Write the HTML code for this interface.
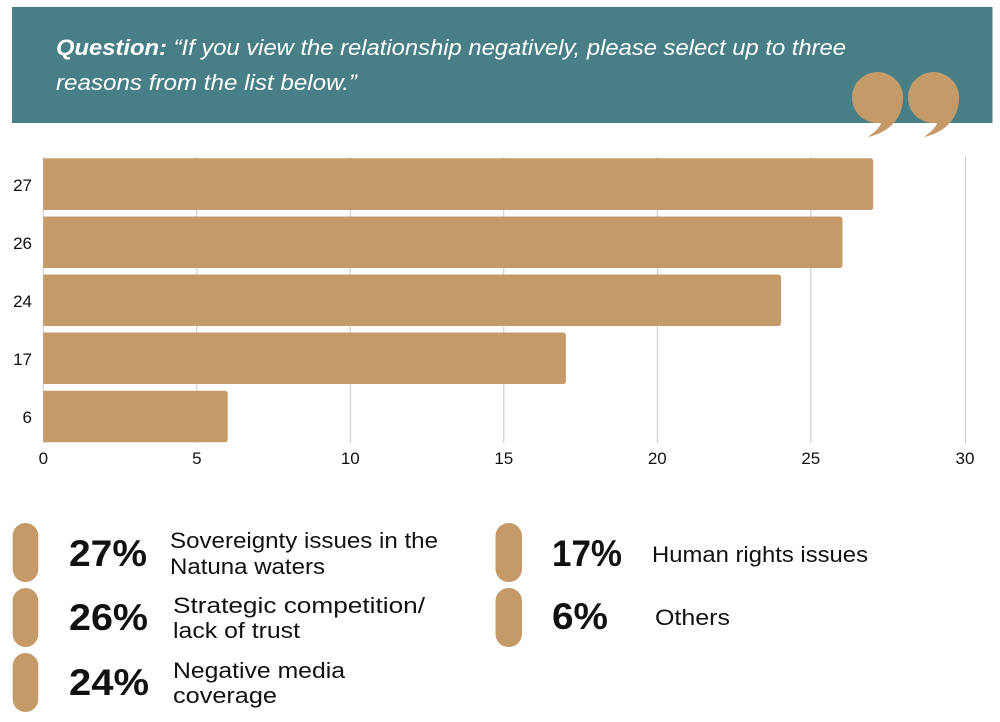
<!DOCTYPE html>
<html><head><meta charset="utf-8"><style>
html,body{margin:0;padding:0;background:#fff;}
svg{display:block;}
text{font-family:"Liberation Sans",Arial,sans-serif;}
</style></head><body>
<svg width="1000" height="722" viewBox="0 0 1000 722" xmlns="http://www.w3.org/2000/svg">
<rect x="0" y="0" width="1000" height="722" fill="#ffffff"/>
<!-- banner -->
<rect x="12" y="7" width="980.5" height="116" fill="#487f86"/>
<text x="56" y="55" font-size="22" fill="#ffffff" font-style="italic" textLength="790" lengthAdjust="spacingAndGlyphs"><tspan font-weight="bold">Question:</tspan> “If you view the relationship negatively, please select up to three</text>
<text x="56" y="90" font-size="22" fill="#ffffff" font-style="italic" textLength="301" lengthAdjust="spacingAndGlyphs">reasons from the list below.”</text>
<!-- quote marks -->
<path d="M852,97.5 A25.5,25.5 0 0 1 903,97.5 C903,118 890,132 868,137 C876,131 880,127 881,122.8 A25.5,25.5 0 0 1 852,97.5 Z" fill="#c49a68"/>
<path d="M908,97.5 A25.5,25.5 0 0 1 959,97.5 C959,118 946,132 924,137 C932,131 936,127 937,122.8 A25.5,25.5 0 0 1 908,97.5 Z" fill="#c49a68"/>
<!-- gridlines -->
<g stroke="#c8c8c8" stroke-width="1">
<line x1="43.3" y1="157" x2="43.3" y2="443"/>
<line x1="196.8" y1="157" x2="196.8" y2="443"/>
<line x1="350.3" y1="157" x2="350.3" y2="443"/>
<line x1="503.8" y1="157" x2="503.8" y2="443"/>
<line x1="657.3" y1="157" x2="657.3" y2="443"/>
<line x1="810.8" y1="157" x2="810.8" y2="443"/>
<line x1="965.5" y1="157" x2="965.5" y2="443"/>
</g>
<!-- bars (square left, rounded right) -->
<g fill="#c49a68">
<path d="M43.3,158.3 H870.2 Q873.2,158.3 873.2,161.3 V207 Q873.2,210 870.2,210 H43.3 Z"/>
<path d="M43.3,216.5 H839.5 Q842.5,216.5 842.5,219.5 V265 Q842.5,268 839.5,268 H43.3 Z"/>
<path d="M43.3,274.5 H778 Q781,274.5 781,277.5 V323 Q781,326 778,326 H43.3 Z"/>
<path d="M43.3,332.5 H562.9 Q565.9,332.5 565.9,335.5 V381 Q565.9,384 562.9,384 H43.3 Z"/>
<path d="M43.3,390.7 H224.7 Q227.7,390.7 227.7,393.7 V439.3 Q227.7,442.3 224.7,442.3 H43.3 Z"/>
</g>
<!-- y labels -->
<g font-size="17" fill="#111" text-anchor="end">
<text x="32" y="191">27</text>
<text x="32" y="249">26</text>
<text x="32" y="307">24</text>
<text x="32" y="365">17</text>
<text x="32" y="423">6</text>
</g>
<!-- x labels -->
<g font-size="17" fill="#111" text-anchor="middle">
<text x="43.3" y="464">0</text>
<text x="196.8" y="464">5</text>
<text x="350.3" y="464">10</text>
<text x="503.8" y="464">15</text>
<text x="657.3" y="464">20</text>
<text x="810.8" y="464">25</text>
<text x="965" y="464">30</text>
</g>
<!-- legend pills -->
<g fill="#c49a68">
<rect x="12.7" y="523" width="25.6" height="59" rx="12.8"/>
<rect x="12.7" y="588" width="25.6" height="59" rx="12.8"/>
<rect x="12.7" y="653" width="25.6" height="59" rx="12.8"/>
<rect x="495.5" y="523" width="26.5" height="59" rx="13"/>
<rect x="495.5" y="588" width="26.5" height="59" rx="13"/>
</g>
<!-- percentages -->
<g font-size="37" font-weight="bold" fill="#111">
<text x="69" y="566" textLength="78" lengthAdjust="spacingAndGlyphs">27%</text>
<text x="69" y="630" textLength="79" lengthAdjust="spacingAndGlyphs">26%</text>
<text x="69" y="695" textLength="80" lengthAdjust="spacingAndGlyphs">24%</text>
<text x="552" y="566" textLength="70" lengthAdjust="spacingAndGlyphs">17%</text>
<text x="552" y="629" textLength="56" lengthAdjust="spacingAndGlyphs">6%</text>
</g>
<!-- labels -->
<g font-size="22" fill="#111">
<text x="170" y="548" textLength="268" lengthAdjust="spacingAndGlyphs">Sovereignty issues in the</text>
<text x="170" y="574" textLength="155" lengthAdjust="spacingAndGlyphs">Natuna waters</text>
<text x="173" y="613" textLength="252" lengthAdjust="spacingAndGlyphs">Strategic competition/</text>
<text x="173" y="638" textLength="127" lengthAdjust="spacingAndGlyphs">lack of trust</text>
<text x="173" y="678" textLength="172" lengthAdjust="spacingAndGlyphs">Negative media</text>
<text x="173" y="703" textLength="104" lengthAdjust="spacingAndGlyphs">coverage</text>
<text x="652" y="562" textLength="216" lengthAdjust="spacingAndGlyphs">Human rights issues</text>
<text x="655" y="625" textLength="75" lengthAdjust="spacingAndGlyphs">Others</text>
</g>
</svg>
</body></html>
